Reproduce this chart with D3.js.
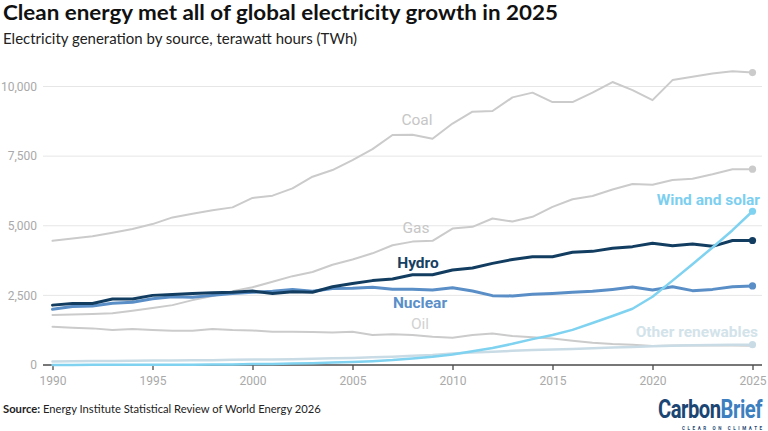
<!DOCTYPE html>
<html><head><meta charset="utf-8">
<script src="https://cdn.jsdelivr.net/npm/d3@7"></script>
<style>
html,body{margin:0;padding:0;background:#fff;}
svg{display:block;}
</style></head>
<body>
<svg id="chart" width="768" height="431"></svg>
<script>
const years = d3.range(1990, 2026);
const coal = [4460,4540,4620,4750,4880,5060,5300,5430,5560,5660,6000,6080,6340,6760,7000,7360,7750,8260,8270,8125,8670,9095,9120,9610,9780,9440,9440,9780,10160,9870,9510,10230,10350,10470,10550,10500];
const gas = [1795,1810,1830,1855,1950,2050,2150,2330,2480,2650,2790,2990,3190,3340,3600,3790,4010,4300,4430,4460,4900,4960,5260,5150,5320,5680,5950,6070,6300,6500,6470,6640,6690,6850,7030,7030];
const hydro = [2150,2210,2210,2370,2370,2500,2535,2570,2590,2610,2655,2570,2630,2610,2810,2930,3030,3090,3240,3240,3410,3480,3650,3790,3890,3890,4050,4080,4190,4250,4370,4285,4345,4260,4470,4470];
const nuclear = [2000,2100,2120,2215,2250,2380,2450,2430,2500,2570,2610,2645,2715,2645,2750,2760,2790,2720,2720,2690,2775,2655,2490,2480,2540,2570,2610,2645,2715,2800,2690,2810,2670,2715,2810,2840];
const oil = [1375,1340,1315,1255,1290,1255,1230,1230,1290,1255,1240,1195,1195,1185,1170,1195,1080,1100,1080,1017,980,1077,1130,1040,1000,950,875,800,755,730,680,700,710,700,700,690];
const windSolar = [4,4,5,6,7,8,9,12,16,22,32,40,54,65,88,109,139,178,233,297,380,490,610,760,930,1080,1260,1510,1760,2020,2450,3030,3620,4220,4840,5520];
const otherRenew = [130,135,140,145,150,160,165,170,175,185,195,200,210,225,240,255,275,300,330,360,410,450,480,510,535,555,575,600,625,650,670,690,705,715,725,730];
const yTicks = [0,2500,5000,7500,10000];
const xTicks = [1990,1995,2000,2005,2010,2015,2020,2025];

const series = [
  {name:"Coal", values:coal, color:"#cbcbcb", w:2, dot:true, label:{x:417,y:124.5,anchor:"middle",weight:400,color:"#c6c6c6"}},
  {name:"Gas", values:gas, color:"#cbcbcb", w:2, dot:true, label:{x:416,y:233,anchor:"middle",weight:400,color:"#c6c6c6"}},
  {name:"Oil", values:oil, color:"#cbcbcb", w:2, dot:false, label:{x:420,y:328.5,anchor:"middle",weight:400,color:"#d2d2d2"}},
  {name:"Other renewables", values:otherRenew, color:"#c9dce6", w:2.5, dot:true, label:{x:758,y:337,anchor:"end",weight:700,color:"#d3e3ea"}},
  {name:"Nuclear", values:nuclear, color:"#5a8ec6", w:3, dot:true, label:{x:420,y:308,anchor:"middle",weight:700,color:"#5b8fc9"}},
  {name:"Hydro", values:hydro, color:"#123d61", w:3, dot:true, label:{x:418,y:267.5,anchor:"middle",weight:700,color:"#163f62"}},
  {name:"Wind and solar", values:windSolar, color:"#7fd2f0", w:2.5, dot:true, label:{x:760,y:205,anchor:"end",weight:700,color:"#7dcff0"}}
];

const svg = d3.select("#chart");
const x = d3.scaleLinear().domain([1990,2025]).range([52.5,752.5]);
const y = d3.scaleLinear().domain([0,10000]).range([365,86.5]);

function fitWidth(sel, target, base){
  const w = sel.node().getComputedTextLength();
  if (w > 0) sel.attr("font-size", base * target / w);
}

// Title & subtitle
svg.append("text").attr("x",3).attr("y",19.5)
  .attr("font-family","Lato, 'Noto Sans', sans-serif").attr("font-weight",700).attr("font-size",20.5)
  .attr("fill","#111").attr("textLength",555).attr("lengthAdjust","spacingAndGlyphs")
  .text("Clean energy met all of global electricity growth in 2025");
svg.append("text").attr("x",3).attr("y",43.5)
  .attr("font-family","Lato, 'Noto Sans', sans-serif").attr("font-size",16)
  .attr("fill","#222").attr("textLength",354).attr("lengthAdjust","spacingAndGlyphs")
  .text("Electricity generation by source, terawatt hours (TWh)");

// Gridlines
const grid = svg.append("g");
grid.selectAll("line").data(yTicks.filter(d=>d>0)).enter().append("line")
  .attr("x1",43).attr("x2",762).attr("y1",d=>y(d)).attr("y2",d=>y(d))
  .attr("stroke","#e6e6e6").attr("stroke-width",1);

// Y axis labels
const yAxis = d3.axisLeft(y).tickValues(yTicks).tickSize(0).tickPadding(0)
  .tickFormat(d3.format(","));
const gy = svg.append("g").attr("transform","translate(37,0)").call(yAxis);
gy.select(".domain").remove();
gy.selectAll("text").attr("font-family","Roboto, sans-serif").attr("font-size",12).attr("fill","#a9a9a9");

// X axis
const xAxis = d3.axisBottom(x).tickValues(xTicks).tickSize(5).tickPadding(6).tickFormat(d3.format("d"));
const gx = svg.append("g").attr("transform","translate(0,365)").call(xAxis);
gx.select(".domain").attr("d","M43,0H762").attr("stroke","#4a4a4a").attr("stroke-width",1.3);
gx.selectAll(".tick line").attr("stroke","#4a4a4a").attr("stroke-width",1.3);
gx.selectAll("text").attr("font-family","Roboto, sans-serif").attr("font-size",12).attr("fill","#a9a9a9");

// Lines
const line = d3.line().x((d,i)=>x(years[i])).y(d=>y(d)).curve(d3.curveLinear);
const lg = svg.append("g");
series.forEach(s=>{
  lg.append("path").datum(s.values).attr("d",line).attr("fill","none")
    .attr("stroke",s.color).attr("stroke-width",s.w).attr("stroke-linejoin","round").attr("stroke-linecap","round");
  if(s.dot){
    lg.append("circle").attr("cx",x(years[years.length-1])).attr("cy",y(s.values[s.values.length-1]))
      .attr("r",3.6).attr("fill",s.color);
  }
});

// Labels
series.forEach(s=>{
  svg.append("text").attr("x",s.label.x).attr("y",s.label.y)
    .attr("text-anchor",s.label.anchor).attr("font-family","Roboto, sans-serif")
    .attr("font-size",15.5).attr("font-weight",s.label.weight).attr("fill",s.label.color)
    .text(s.name);
});

// Source
const src = svg.append("text").attr("x",3).attr("y",412.5)
  .attr("font-family","Lato, 'Noto Sans', sans-serif").attr("font-size",13.5).attr("fill","#222");
src.append("tspan").attr("font-weight",700).text("Source:");
src.append("tspan").text(" Energy Institute Statistical Review of World Energy 2026");
fitWidth(src, 318, 13.5);

// Logo (condensed by horizontal scaling)
const logoG = svg.append("g");
const logo = logoG.append("text").attr("x",0).attr("y",0)
  .attr("font-family","Roboto, sans-serif").attr("font-weight",700).attr("font-size",25)
  .attr("letter-spacing",-0.6);
logo.append("tspan").attr("fill","#1b4673").text("Carbon");
logo.append("tspan").attr("fill","#3d7fbf").text("Brief");
const lw = logo.node().getComputedTextLength() || 140;
logoG.attr("transform", `translate(658,418) scale(${104/lw},1)`);
svg.append("text").attr("x",682).attr("y",429.5)
  .attr("font-family","Roboto, sans-serif").attr("font-weight",700).attr("font-size",4.5)
  .attr("fill","#1b4673").attr("letter-spacing",2.6)
  .text("CLEAR ON CLIMATE");
</script>
</body></html>
